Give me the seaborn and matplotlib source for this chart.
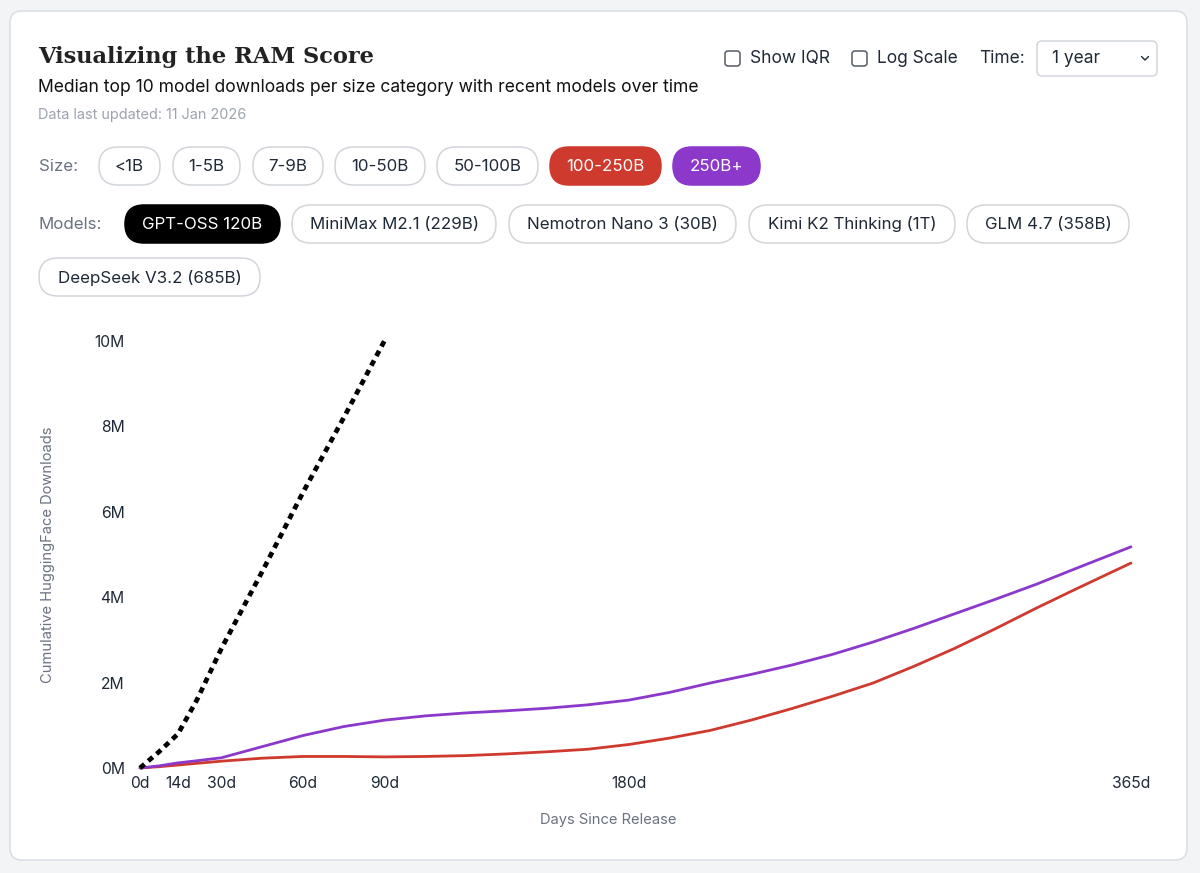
import matplotlib
matplotlib.use("Agg")
import matplotlib.pyplot as plt
import seaborn as sns
import pandas as pd
from matplotlib.patches import FancyBboxPatch

# dados (downloads em milhões)
dias = [0, 7, 14, 21, 30, 45, 60, 75, 90, 105, 120, 135, 150, 165, 180,
        195, 210, 225, 240, 255, 270, 285, 300, 315, 330, 345, 365]
roxo_250b = [0, 0.05, 0.12, 0.17, 0.24, 0.5, 0.76, 0.97, 1.12, 1.22, 1.29, 1.34, 1.4, 1.48, 1.59,
             1.77, 1.99, 2.19, 2.41, 2.66, 2.95, 3.27, 3.61, 3.95, 4.3, 4.68, 5.18]
vermelho_100_250b = [0, 0.03, 0.07, 0.11, 0.16, 0.23, 0.27, 0.27, 0.26, 0.27, 0.29, 0.33, 0.38, 0.44, 0.55,
                     0.7, 0.88, 1.12, 1.39, 1.68, 1.99, 2.38, 2.8, 3.26, 3.74, 4.2, 4.8]
dias_gpt = [0, 7, 14, 21, 30, 45, 60, 75, 90]
gpt_oss_120b = [0, 0.38, 0.8, 1.6, 2.8, 4.6, 6.45, 8.2, 10.0]

xticks = [0, 14, 30, 60, 90, 180, 365]
xtick_labels = ["0d", "14d", "30d", "60d", "90d", "180d", "365d"]
yticks = [0, 2, 4, 6, 8, 10]
ytick_labels = ["0M", "2M", "4M", "6M", "8M", "10M"]

tamanhos = ["<1B", "1-5B", "7-9B", "10-50B", "50-100B", "100-250B", "250B+"]
modelos = ["GPT-OSS 120B", "MiniMax M2.1 (229B)", "Nemotron Nano 3 (30B)",
           "Kimi K2 Thinking (1T)", "GLM 4.7 (358B)", "DeepSeek V3.2 (685B)"]

VERMELHO = "#cf3a2e"
ROXO = "#8b38cb"
CINZA = "#6b7280"
TEXTO = "#1f2937"

sns.set_theme(style="white")
plt.rcParams['font.family'] = ['Inter', 'DejaVu Sans']

fig = plt.figure(figsize=(12, 8.73), dpi=100)
fig.patch.set_facecolor("#f3f4f6")

# camada de fundo em coordenadas de pixel
bg = fig.add_axes([0, 0, 1, 1], zorder=0)
bg.set_xlim(0, 1200)
bg.set_ylim(873, 0)
bg.axis("off")

bg.add_patch(FancyBboxPatch((10, 11), 1177, 849, boxstyle="round,pad=0,rounding_size=12",
                            facecolor="white", edgecolor="#dcdfe4", lw=1.2))

bg.text(38, 57, "Visualizing the RAM Score", family="DejaVu Serif", fontweight="bold",
        fontsize=16.2, color="#222222", va="center")
bg.text(38, 88, "Median top 10 model downloads per size category with recent models over time",
        fontsize=12.6, color="#111111", va="center")
bg.text(38, 115, "Data last updated: 11 Jan 2026", fontsize=10.4, color="#9ca3af", va="center")

# controles do topo
for cx, label in [(725, "Show IQR"), (852, "Log Scale")]:
    bg.add_patch(FancyBboxPatch((cx, 51), 15, 15, boxstyle="round,pad=0,rounding_size=3",
                                facecolor="white", edgecolor="#555b66", lw=1.1))
    bg.text(cx + 25, 58.5, label, fontsize=12.5, color=TEXTO, va="center")
bg.text(979, 58.5, "Time:", fontsize=12.5, color=TEXTO, va="center")
bg.add_patch(FancyBboxPatch((1037, 41), 120, 35, boxstyle="round,pad=0,rounding_size=5",
                            facecolor="white", edgecolor="#d1d5db", lw=1.1))
bg.text(1052, 58.5, "1 year", fontsize=12.5, color=TEXTO, va="center")
bg.plot([1141.5, 1145, 1148.5], [56.5, 60, 56.5], color=TEXTO, lw=1.0)


def pill(x0, x1, yc, label, face="white", edge="#d1d5db", cor=TEXTO, h=38):
    bg.add_patch(FancyBboxPatch((x0, yc - h / 2), x1 - x0, h,
                                boxstyle=f"round,pad=0,rounding_size={h / 2}",
                                facecolor=face, edgecolor=edge, lw=1.1))
    bg.text((x0 + x1) / 2, yc + 0.5, label, fontsize=12.2, color=cor, ha="center", va="center")


bg.text(39, 166.5, "Size:", fontsize=12.2, color=CINZA, va="center")
pos_tamanhos = [(99, 160), (173, 240), (253, 323), (335, 425), (437, 538), (550, 661), (673, 760)]
for (a, b), t in zip(pos_tamanhos, tamanhos):
    if t == "100-250B":
        pill(a, b, 166, t, face=VERMELHO, edge=VERMELHO, cor="white")
    elif t == "250B+":
        pill(a, b, 166, t, face=ROXO, edge=ROXO, cor="white")
    else:
        pill(a, b, 166, t)

bg.text(39, 224.5, "Models:", fontsize=12.2, color=CINZA, va="center")
pos_modelos = [(125, 280, 224), (292, 496, 224), (509, 736, 224), (749, 955, 224),
               (967, 1129, 224), (39, 260, 277)]
for (a, b, yc), m in zip(pos_modelos, modelos):
    if m == "GPT-OSS 120B":
        pill(a, b, yc, m, face="black", edge="black", cor="white")
    else:
        pill(a, b, yc, m)

# gráfico principal
ax = fig.add_axes([140 / 1200, (873 - 768) / 873, (1131 - 140) / 1200, (768 - 341) / 873], zorder=1)
ax.set_facecolor("none")

df = pd.DataFrame({"dias": dias, "250B+": roxo_250b, "100-250B": vermelho_100_250b})
df_gpt = pd.DataFrame({"dias": dias_gpt, "gpt": gpt_oss_120b})

sns.lineplot(data=df, x="dias", y="100-250B", color=VERMELHO, lw=2.0, ax=ax, clip_on=False)
sns.lineplot(data=df, x="dias", y="250B+", color=ROXO, lw=2.0, ax=ax, clip_on=False)
sns.lineplot(data=df_gpt, x="dias", y="gpt", color="black", lw=3.4,
             linestyle=(0, (1.25, 1.05)), ax=ax, clip_on=False)

ax.set_xlim(0, 365)
ax.set_ylim(0, 10)
ax.set_xticks(xticks)
ax.set_xticklabels(xtick_labels)
ax.set_yticks(yticks)
ax.set_yticklabels(ytick_labels)
ax.tick_params(axis="both", length=0, labelsize=11.3, colors=TEXTO)
ax.tick_params(axis="y", pad=11)
ax.tick_params(axis="x", pad=6)
sns.despine(ax=ax, left=True, bottom=True)
ax.grid(False)
ax.set_xlabel("")
ax.set_ylabel("")

bg.text(48, 555, "Cumulative HuggingFace Downloads", fontsize=10.6, color=CINZA,
        rotation=90, ha="center", va="center")
bg.text(608, 820, "Days Since Release", fontsize=10.6, color=CINZA, ha="center", va="center")

fig.savefig("out.png", dpi=100, facecolor=fig.get_facecolor())
